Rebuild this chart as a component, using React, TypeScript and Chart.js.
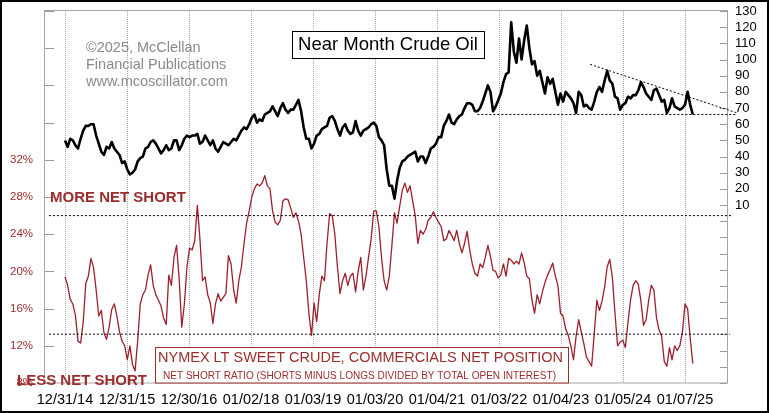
import { useEffect, useRef } from "react";
import { Chart, registerables } from "chart.js";

Chart.register(...registerables);

const FONT = "'Liberation Sans', Arial, Helvetica, sans-serif";
const RED = "#9c1f2b";
const RED_TEXT = "#9b2d2d";

// x axis: decimal years, one sample every ~half month
const START_YEAR = 2015;
const SAMPLES_PER_YEAR = 23.9;
const X_TICK_YEARS = [2015, 2016, 2017, 2018, 2019, 2020, 2021, 2022, 2023, 2024, 2025];
const X_TICK_LABELS = ["12/31/14", "12/31/15", "12/30/16", "01/02/18", "01/03/19", "01/03/20", "01/04/21", "01/03/22", "01/04/23", "01/05/24", "01/07/25"];

// Near month crude oil, $ (right axis)
const OIL_PRICE = [
  50, 46, 51, 50, 47, 45, 51, 56, 59, 59, 60, 60, 53, 48, 43, 41, 46, 45, 49, 45, 43, 41, 36, 37,
  32, 29, 30, 32, 37, 39, 40, 45, 46, 49, 50, 48, 45, 42, 44, 47, 44, 45, 50, 50, 44, 47, 51, 53,
  52, 53, 53, 54, 48, 49, 53, 50, 47, 50, 45, 43, 46, 49, 48, 47, 49, 51, 50, 53, 56, 58, 57, 60,
  64, 66, 61, 63, 62, 66, 67, 68, 71, 68, 65, 70, 73, 69, 67, 69, 69, 72, 75, 68, 58, 51, 51, 45,
  48, 53, 54, 57, 58, 59, 64, 65, 62, 57, 53, 58, 60, 56, 54, 55, 62, 56, 53, 56, 57, 58, 60, 61,
  59, 52, 50, 47, 32, 22, 22, 14, 25, 33, 37, 38, 40, 41, 42, 43, 37, 40, 40, 36, 40, 45, 46, 48,
  52, 52, 59, 62, 66, 61, 60, 63, 65, 66, 70, 73, 73, 72, 68, 68, 70, 74, 79, 84, 80, 68, 71, 75,
  79, 86, 91, 92, 123, 105, 98, 113, 100, 112, 121, 107, 97, 99, 90, 93, 86, 79, 89, 85, 88, 80, 72, 79,
  74, 80, 78, 76, 73, 67, 80, 78, 71, 72, 70, 69, 74, 80, 83, 80, 87, 93, 87, 85, 77, 76, 69, 72,
  73, 77, 76, 78, 78, 81, 86, 83, 79, 77, 75, 81, 82, 78, 74, 75, 67, 70, 76, 71, 70, 69, 70, 72,
  80, 72, 66,
];

// Commercials net short ratio, % (left axis)
const NET_SHORT_PCT = [
  19.4, 18.5, 17.0, 16.5, 15.3, 12.5, 12.3, 14.5, 18.7, 19.5, 21.4, 20.4, 18.0, 15.2, 15.8, 13.4, 12.7, 14.0, 15.9, 16.5, 15.2, 13.5, 12.5, 12.0,
  10.5, 12.0, 10.0, 9.3, 12.5, 16.5, 17.5, 18.0, 19.6, 20.7, 18.5, 17.5, 16.9, 16.3, 15.0, 14.3, 19.6, 18.5, 21.5, 22.8, 19.2, 14.0, 16.5, 20.5,
  22.5, 22.3, 23.3, 27.1, 23.5, 19.0, 19.4, 17.5, 16.6, 14.4, 16.5, 17.6, 16.8, 17.2, 17.6, 21.7, 20.8, 18.0, 16.6, 19.0, 20.5, 23.0, 25.2, 26.5,
  28.0, 28.9, 29.4, 29.2, 29.5, 30.3, 29.2, 28.9, 26.5, 25.3, 25.0, 25.5, 27.6, 27.8, 27.7, 26.8, 25.8, 26.3, 25.4, 24.0, 21.5, 19.0, 15.5, 13.1,
  16.6, 14.6, 17.5, 19.5, 19.0, 23.0, 26.2, 26.0, 24.0, 20.5, 17.6, 19.0, 19.8, 18.5, 19.5, 19.8, 17.8, 20.0, 21.5, 18.0, 19.5, 21.5, 23.5, 26.5,
  26.5, 24.8, 21.5, 19.0, 18.0, 19.5, 22.8, 26.3, 25.2, 27.0, 28.7, 29.5, 28.5, 29.2, 27.6, 26.0, 23.0, 24.4, 24.0, 24.5, 25.5, 25.8, 26.4, 25.8,
  25.3, 24.8, 23.3, 23.5, 24.4, 23.9, 23.3, 24.4, 23.0, 22.0, 23.0, 24.3, 22.3, 20.8, 19.8, 19.5, 20.8, 20.4, 21.5, 22.8, 21.6, 20.1, 20.0, 19.3,
  19.6, 20.8, 19.5, 21.4, 21.2, 20.8, 21.1, 20.8, 22.0, 20.9, 19.5, 19.2, 16.9, 15.5, 17.5, 16.5, 17.8, 18.8, 19.6, 20.2, 20.9, 19.5, 18.5, 15.5,
  15.2, 13.8, 13.1, 12.0, 10.5, 13.0, 14.8, 13.5, 12.2, 10.8, 10.3, 9.8, 13.3, 16.9, 15.8, 16.8, 18.3, 20.5, 21.3, 19.3, 15.5, 12.0, 12.4, 12.6,
  11.8, 14.5, 16.9, 18.5, 19.0, 18.6, 16.8, 14.2, 14.8, 16.9, 18.5, 18.0, 15.0, 13.7, 13.0, 10.3, 9.8, 11.8, 10.5, 12.0, 11.5, 12.0, 13.5, 16.5,
  16.0, 12.8, 10.1,
];

// axis ticks
const PCT_TICKS = [8, 12, 16, 20, 24, 28, 32, 36, 40, 44, 48];
const PCT_MAX_LABELED = 32;
const OIL_TICKS = [-100, -90, -80, -70, -60, -50, -40, -30, -20, -10, 0, 10, 20, 30, 40, 50, 60, 70, 80, 90, 100, 110, 120, 130];
const OIL_MIN_LABELED = 10;

// reference levels
const MORE_SHORT_LEVEL = 26;
const LESS_SHORT_LEVEL = 13.25;
const OIL_SUPPORT = { from: 2021.65, to: 2025.82, level: 66 };
const OIL_TREND = { from: 2023.47, fromLevel: 97, to: 2025.84, toLevel: 67 };

const toXY = (arr: number[]) => arr.map((v, i) => ({ x: START_YEAR + i / SAMPLES_PER_YEAR, y: v }));

function fitText(ctx: CanvasRenderingContext2D, text: string, x: number, y: number, width: number) {
  const w = ctx.measureText(text).width;
  ctx.save();
  ctx.translate(x, y);
  ctx.scale(width / w, 1);
  ctx.fillText(text, 0, 0);
  ctx.restore();
}

const overlay = {
  id: "overlay",
  beforeDatasetsDraw(chart: any) {
    const { ctx, chartArea: a } = chart;
    ctx.save();
    ctx.setLineDash([]);
    // vertical dotted year gridlines, one pixel dots
    const xs = chart.scales.x;
    ctx.fillStyle = "#a8a8a8";
    X_TICK_YEARS.forEach((yr) => {
      const x = Math.round(xs.getPixelForValue(yr));
      for (let y = Math.ceil(a.top); y < a.bottom; y += 2) {
        ctx.fillRect(x, y, 1, 1);
      }
    });
    // plot frame
    ctx.strokeStyle = "#a6a6a6";
    ctx.lineWidth = 1;
    ctx.strokeRect(a.left - 0.5, a.top - 0.5, a.right - a.left + 1, a.bottom - a.top + 0.5);
    // inward tick marks
    ctx.strokeStyle = "#9a9a9a";
    const yl = chart.scales.yPct;
    PCT_TICKS.forEach((v) => {
      const y = Math.round(yl.getPixelForValue(v)) + 0.5;
      ctx.beginPath();
      ctx.moveTo(a.left, y);
      ctx.lineTo(a.left + 9, y);
      ctx.stroke();
    });
    const yr = chart.scales.yOil;
    OIL_TICKS.forEach((v) => {
      const y = Math.round(yr.getPixelForValue(v)) + 0.5;
      ctx.beginPath();
      ctx.moveTo(a.right - 7, y);
      ctx.lineTo(a.right, y);
      ctx.stroke();
    });
    // watermark
    ctx.fillStyle = "#8a8a8a";
    ctx.font = `14.5px ${FONT}`;
    ctx.textAlign = "left";
    ctx.textBaseline = "middle";
    ctx.fillText("©2025, McClellan", 86, 48);
    ctx.fillText("Financial Publications", 86, 65);
    ctx.fillText("www.mcoscillator.com", 86, 82);
    ctx.restore();
  },
  afterDatasetsDraw(chart: any) {
    const { ctx } = chart;
    ctx.save();
    ctx.setLineDash([]);
    // title box
    ctx.fillStyle = "#ffffff";
    ctx.fillRect(292, 31, 192, 27);
    ctx.strokeStyle = "#000000";
    ctx.lineWidth = 1;
    ctx.strokeRect(292.5, 31.5, 192, 27);
    ctx.fillStyle = "#000000";
    ctx.font = `18.5px ${FONT}`;
    ctx.textAlign = "center";
    ctx.textBaseline = "middle";
    ctx.fillText("Near Month Crude Oil", 388, 45);

    // legend box for the red series
    ctx.fillStyle = "#ffffff";
    ctx.fillRect(155, 347, 414, 36);
    ctx.strokeStyle = RED_TEXT;
    ctx.strokeRect(155.5, 347.5, 413, 35.5);
    ctx.fillStyle = RED_TEXT;
    ctx.textAlign = "left";
    ctx.textBaseline = "middle";
    ctx.font = `15.5px ${FONT}`;
    fitText(ctx, "NYMEX LT SWEET CRUDE, COMMERCIALS NET POSITION", 158, 357.5, 405);
    ctx.font = `10.5px ${FONT}`;
    fitText(ctx, "NET SHORT RATIO (SHORTS MINUS LONGS DIVIDED BY TOTAL OPEN INTEREST)", 163, 376.5, 393);

    // zone labels
    ctx.font = `bold 15px ${FONT}`;
    ctx.fillText("MORE NET SHORT", 50, 198);
    ctx.fillText("LESS NET SHORT", 17, 381);
    ctx.restore();
  },
  afterDraw(chart: any) {
    const { ctx, width, height } = chart;
    ctx.save();
    ctx.strokeStyle = "#000000";
    ctx.lineWidth = 2;
    ctx.setLineDash([]);
    ctx.strokeRect(1, 1, width - 2, height - 2);
    ctx.restore();
  },
};

export default function App() {
  const ref = useRef<HTMLCanvasElement | null>(null);

  useEffect(() => {
    if (!ref.current) return;
    const dotted = {
      borderColor: "#000000",
      borderWidth: 1,
      borderDash: [2, 2],
      pointRadius: 0,
      clip: false as any,
    };
    const noPad = (s: any) => {
      s.paddingTop = 0;
      s.paddingBottom = 0;
      s.paddingLeft = 0;
      s.paddingRight = 0;
    };
    const chart = new Chart(ref.current, {
      type: "line",
      data: {
        datasets: [
          {
            label: "more net short",
            data: [{ x: 2014.74, y: MORE_SHORT_LEVEL }, { x: 2025.76, y: MORE_SHORT_LEVEL }],
            yAxisID: "yPct",
            ...dotted,
          },
          {
            label: "less net short",
            data: [{ x: 2014.74, y: LESS_SHORT_LEVEL }, { x: 2025.72, y: LESS_SHORT_LEVEL }],
            yAxisID: "yPct",
            ...dotted,
          },
          {
            label: "support",
            data: [{ x: OIL_SUPPORT.from, y: OIL_SUPPORT.level }, { x: OIL_SUPPORT.to, y: OIL_SUPPORT.level }],
            yAxisID: "yOil",
            ...dotted,
          },
          {
            label: "trend",
            data: [{ x: OIL_TREND.from, y: OIL_TREND.fromLevel }, { x: OIL_TREND.to, y: OIL_TREND.toLevel }],
            yAxisID: "yOil",
            ...dotted,
          },
          {
            label: "Net short ratio",
            data: toXY(NET_SHORT_PCT),
            yAxisID: "yPct",
            borderColor: RED,
            borderWidth: 1.3,
            pointRadius: 0,
            tension: 0,
            borderJoinStyle: "round",
          },
          {
            label: "Crude oil",
            data: toXY(OIL_PRICE),
            yAxisID: "yOil",
            borderColor: "#000000",
            borderWidth: 2.6,
            pointRadius: 0,
            tension: 0,
            borderJoinStyle: "round",
          },
        ],
      },
      options: {
        responsive: false,
        animation: false,
        devicePixelRatio: 1,
        layout: { padding: { top: 11, left: 0, right: 0, bottom: 0 } },
        plugins: { legend: { display: false }, tooltip: { enabled: false } },
        scales: {
          x: {
            type: "linear",
            min: 2014.677,
            max: 2025.677,
            afterBuildTicks: (s: any) => {
              s.ticks = X_TICK_YEARS.map((v) => ({ value: v }));
            },
            afterFit: (s: any) => {
              s.height = 30;
              noPad(s);
            },
            grid: { display: false, drawTicks: false },
            border: { display: false },
            ticks: {
              autoSkip: false,
              maxRotation: 0,
              padding: 8,
              color: "#000000",
              font: { family: FONT, size: 14.5 },
              callback: (_v: any, i: number) => X_TICK_LABELS[i],
            },
          },
          yPct: {
            type: "linear",
            position: "left",
            min: 8,
            max: 48,
            afterBuildTicks: (s: any) => {
              s.ticks = PCT_TICKS.map((v) => ({ value: v }));
            },
            afterFit: (s: any) => {
              s.width = 45;
              noPad(s);
            },
            grid: { display: false, drawTicks: false },
            border: { display: false },
            ticks: {
              autoSkip: false,
              padding: 12,
              color: RED_TEXT,
              font: { family: FONT, size: 11.5 },
              callback: (v: any) => (Number(v) <= PCT_MAX_LABELED ? `${v}%` : ""),
            },
          },
          yOil: {
            type: "linear",
            position: "right",
            min: -100,
            max: 130,
            afterBuildTicks: (s: any) => {
              s.ticks = OIL_TICKS.map((v) => ({ value: v }));
            },
            afterFit: (s: any) => {
              s.width = 42;
              noPad(s);
            },
            grid: { display: false, drawTicks: false },
            border: { display: false },
            ticks: {
              autoSkip: false,
              padding: 8,
              color: "#000000",
              font: { family: FONT, size: 13 },
              callback: (v: any) => (Number(v) >= OIL_MIN_LABELED ? String(v) : ""),
            },
          },
        },
      } as any,
      plugins: [overlay],
    });
    return () => chart.destroy();
  }, []);

  return (
    <div style={{ position: "absolute", left: 0, top: 0, width: 769, height: 413, background: "#ffffff" }}>
      <canvas ref={ref} width={769} height={413} style={{ display: "block" }} />
    </div>
  );
}
